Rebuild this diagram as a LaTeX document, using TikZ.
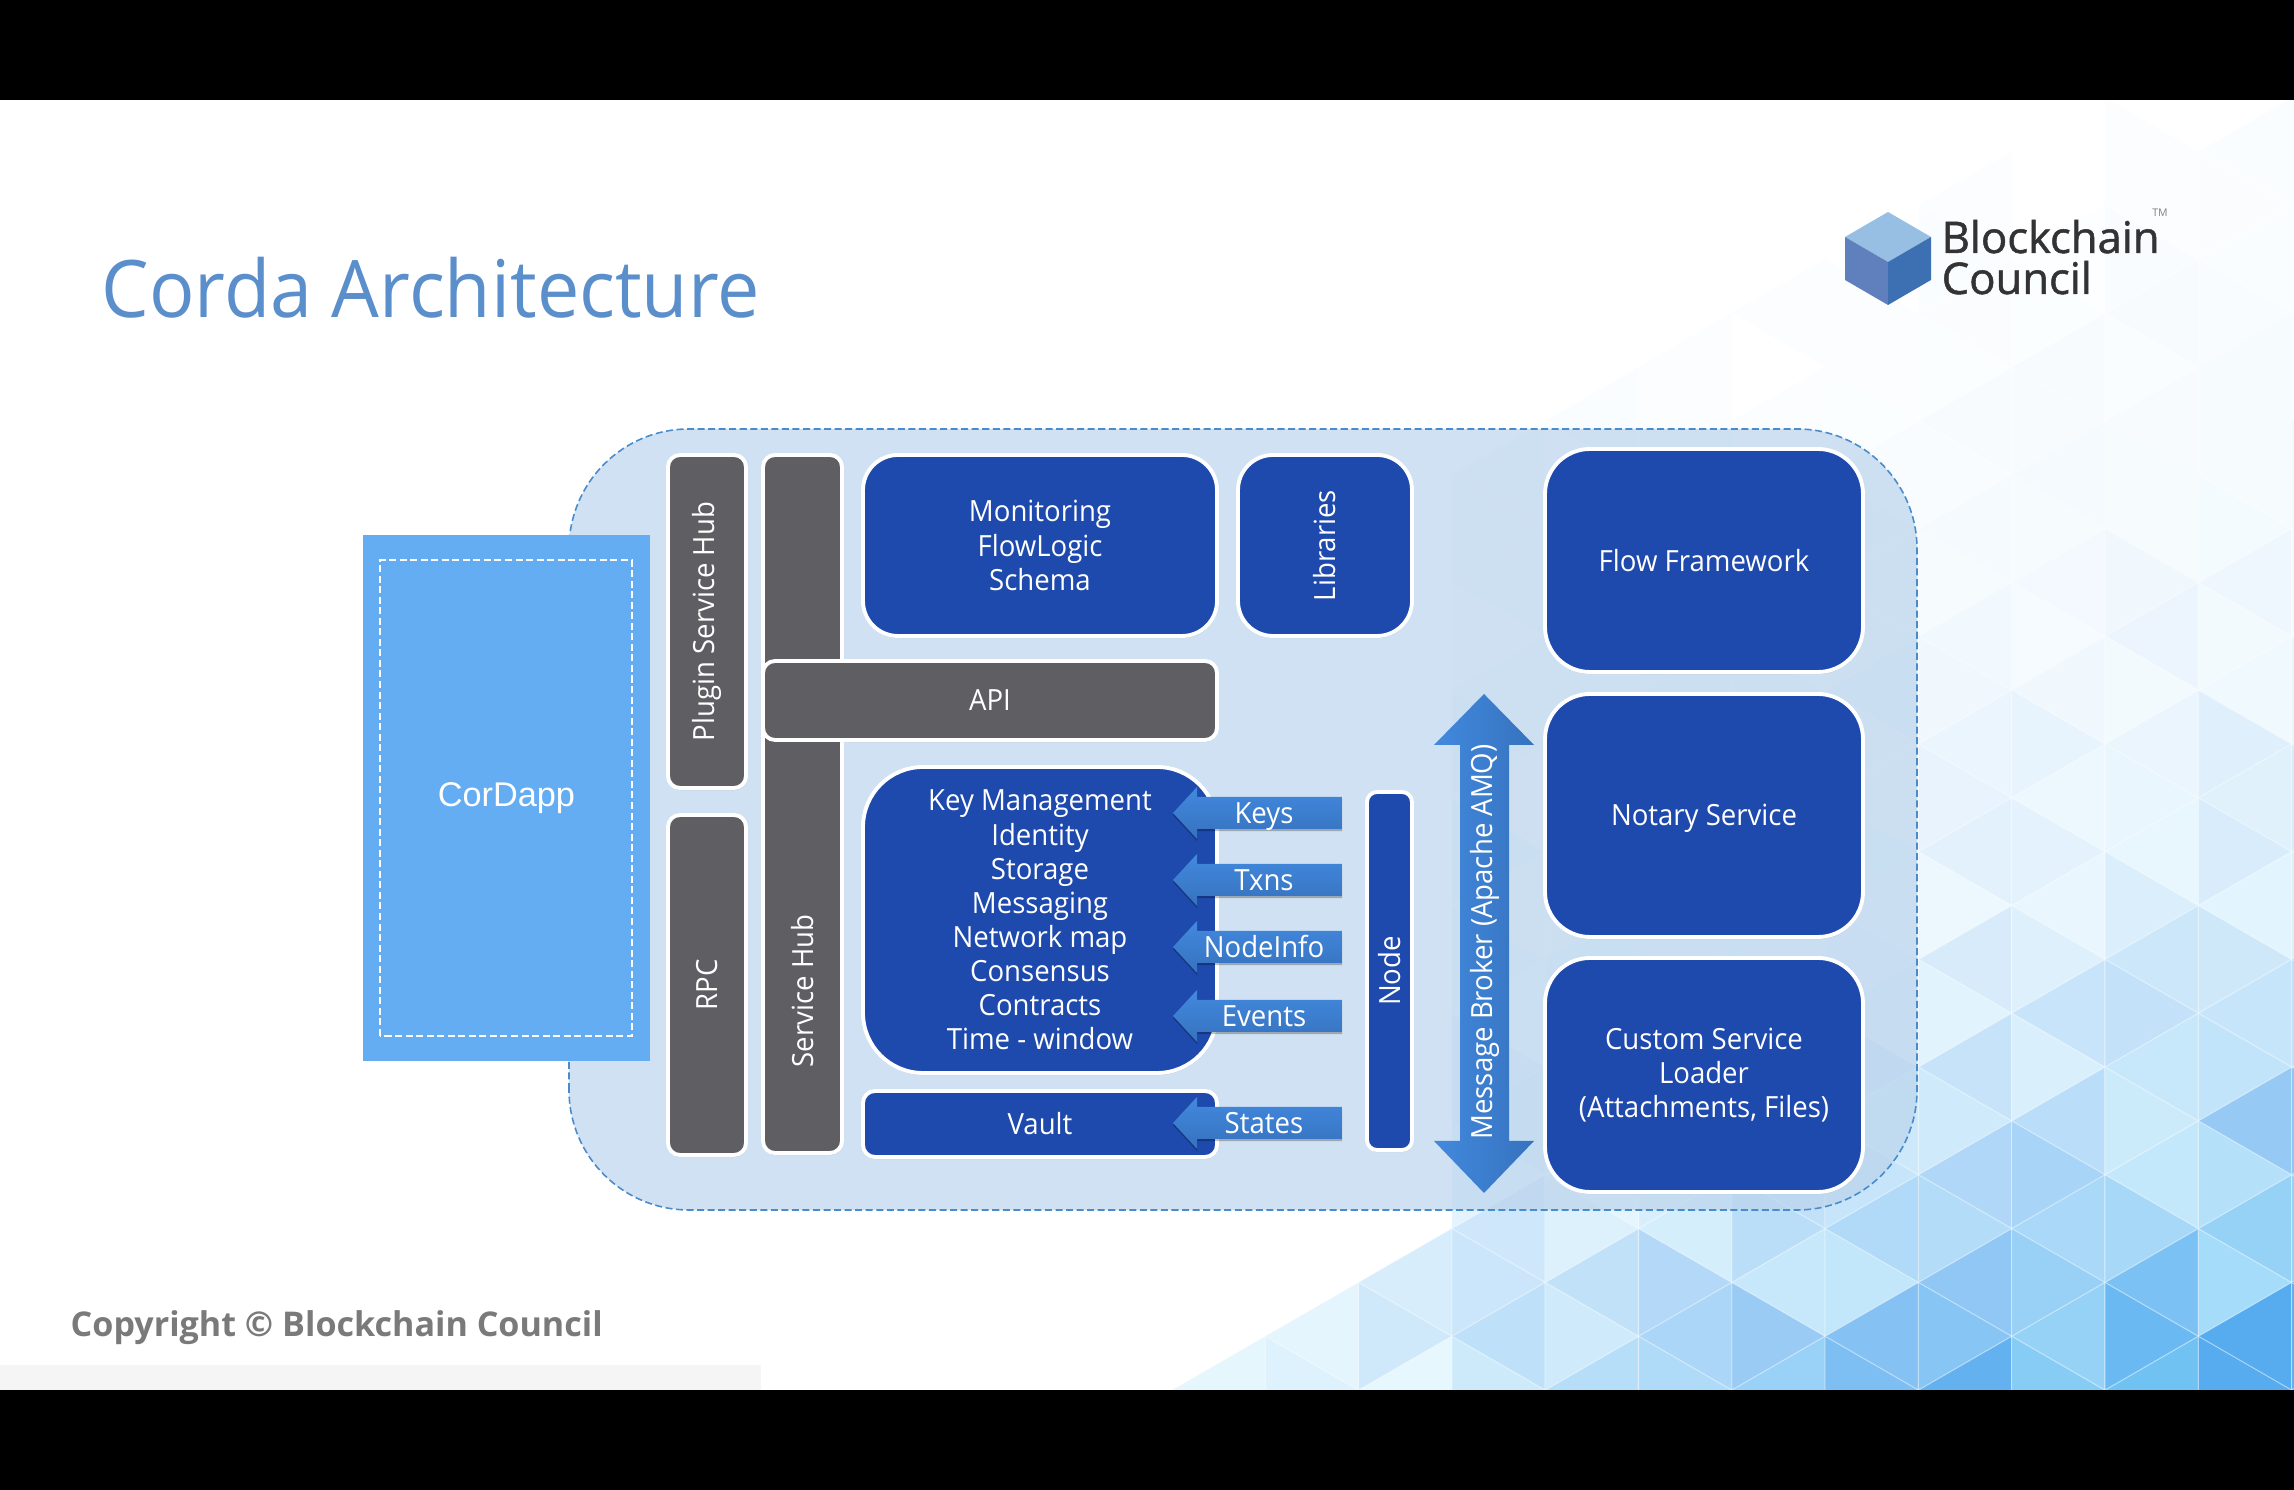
\documentclass[tikz,border=0pt]{standalone}
\usepackage{fontspec}
\setmainfont{Open Sans}
\newfontfamily\arialfont{Liberation Sans}
\newfontfamily\boxfont[FakeStretch=0.945]{Open Sans}
\newfontfamily\heavyfont[FakeBold=1.2]{Open Sans}
\usetikzlibrary{positioning}
\usetikzlibrary{shadows}
\definecolor{corblue}{HTML}{1E49AD}
\definecolor{corgrey}{HTML}{5F5E62}
\definecolor{panelblue}{HTML}{BBD4EC}
\definecolor{paneledge}{HTML}{4A8BCB}
\definecolor{dappblue}{HTML}{64ADF2}
\definecolor{bgblue}{HTML}{55A8EE}
\definecolor{bgcyan}{HTML}{66C4F4}
\definecolor{titleblue}{HTML}{5B8FCB}
\definecolor{arrowlight}{HTML}{4289DE}
\definecolor{arrowdark}{HTML}{3672BE}
\definecolor{cubetop}{HTML}{97BFE3}
\definecolor{cubeleft}{HTML}{5F80BC}
\definecolor{cuberight}{HTML}{3D6FB3}
\tikzset{
  blockbox/.style={draw=white,line width=1.1pt,text=white,align=center,inner sep=0pt,
    font=\boxfont\fontsize{8.3}{9.7}\selectfont,
    drop shadow={shadow xshift=0.2pt,shadow yshift=-0.6pt,opacity=0.3}},
  bluebox/.style={blockbox,fill=corblue,rounded corners=0.35cm},
  greybox/.style={blockbox,fill=corgrey,rounded corners=0.12cm},
  smalltag/.style={text=white,font=\boxfont\fontsize{8.3}{9.7}\selectfont,inner sep=0pt},
}
\begin{document}
\begin{tikzpicture}
\useasboundingbox (0,0) rectangle (22.94,14.90);
% background triangles
\foreach \k in {0,...,12}{
  \foreach \j in {-1,...,11}{
    \pgfmathsetmacro{\xa}{11.72+0.933*\k}
    \pgfmathsetmacro{\xb}{\xa+0.933}
    \pgfmathsetmacro{\ya}{1+1.077*\j+0.5385*mod(\k,2)}
    \pgfmathsetmacro{\yb}{\ya+0.5385}
    \pgfmathsetmacro{\yc}{\ya+1.077}
    \pgfmathsetmacro{\yd}{\ya+1.6155}
    \pgfmathsetmacro{\vara}{0.75+mod(7*\k*\k+13*\j+5*\k*\j,11)/20}
    \pgfmathsetmacro{\varb}{0.75+mod(3*\k*\k+17*\j+2*\k*\j+4,11)/20}
    \pgfmathsetmacro{\opa}{min(1,\vara*exp((\xa+0.31-22.5)/7+(1.4-\yb)/3.2))}
    \pgfmathsetmacro{\opb}{min(1,\varb*exp((\xa+0.62-22.5)/7+(1.4-\yc)/3.2))}
    \pgfmathsetmacro{\mixa}{int(200*(\vara-0.75))}
    \pgfmathsetmacro{\mixb}{int(200*(\varb-0.75))}
    \pgfmathparse{((\yb<1+0.577*(\xa+0.31-11.72))||(\xa>14.5))&&(\opa>0.02)?1:0}
    \ifnum\pgfmathresult>0
      \fill[bgblue!\mixa!bgcyan,fill opacity=\opa] (\xa,\ya) -- (\xa,\yc) -- (\xb,\yb) -- cycle;
      \draw[white,opacity=0.35,line width=0.3pt] (\xa,\ya) -- (\xa,\yc) -- (\xb,\yb) -- cycle;
    \fi
    \pgfmathparse{((\yc<1+0.577*(\xa+0.62-11.72))||(\xa>14.5))&&(\opb>0.02)?1:0}
    \ifnum\pgfmathresult>0
      \fill[bgblue!\mixb!bgcyan,fill opacity=\opb] (\xb,\yb) -- (\xb,\yd) -- (\xa,\yc) -- cycle;
      \draw[white,opacity=0.35,line width=0.3pt] (\xb,\yb) -- (\xb,\yd) -- (\xa,\yc) -- cycle;
    \fi
  }
}
% black bars and strip
\fill[black] (0,13.90) rectangle (22.94,14.90);
\fill[black] (0,0) rectangle (22.94,1.00);
\fill[black!4] (0,1.00) rectangle (7.61,1.25);

\node[anchor=base west,inner sep=0pt,text=titleblue,font=\fontsize{22.6}{27}\selectfont\addfontfeature{FakeStretch=0.95}] (title) at (1.01,11.72) {Corda Architecture};
\node[anchor=base west,inner sep=0pt,text=black!52,font=\bfseries\fontsize{9.7}{12}\selectfont] (copyright) at (0.70,1.53) {Copyright © Blockchain Council};

% logo
\fill[cubetop] (18.88,12.78) -- (19.31,12.53) -- (18.88,12.28) -- (18.45,12.53) -- cycle;
\fill[cubeleft] (18.45,12.53) -- (18.88,12.28) -- (18.88,11.85) -- (18.45,12.10) -- cycle;
\fill[cuberight] (18.88,12.28) -- (19.31,12.53) -- (19.31,12.10) -- (18.88,11.85) -- cycle;
\node[anchor=base west,inner sep=0pt,text=black!80,font=\heavyfont\fontsize{12.4}{14}\selectfont] (logoa) at (19.41,12.37) {Blockchain};
\node[anchor=base west,inner sep=0pt,text=black!80,font=\heavyfont\fontsize{12.4}{14}\selectfont] (logob) at (19.41,11.96) {Council};
\node[inner sep=0pt,text=black!50,font=\fontsize{3}{3}\selectfont] (logotm) at (21.60,12.77) {TM};

% panel
\draw[fill=panelblue,fill opacity=0.7,draw=paneledge,dash pattern=on 2pt off 1pt,line width=0.45pt,rounded corners=1.2cm] (5.69,2.80) rectangle (19.17,10.61);

% cordapp
\node[fill=dappblue,minimum width=2.87cm,minimum height=5.26cm,inner sep=0pt,text=white,font=\arialfont\fontsize{9.75}{12}\selectfont] (cordapp) at (5.065,6.92) {CorDapp};
\draw[white,dash pattern=on 2pt off 1pt,line width=0.35pt] (3.80,4.54) rectangle (6.32,9.30);

% grey bars
\node[greybox,minimum width=0.78cm,minimum height=3.33cm] (pluginhub) at (7.07,8.685) {\rotatebox{90}{Plugin Service Hub}};
\node[greybox,minimum width=0.78cm,minimum height=3.40cm] (rpc) at (7.07,5.05) {\rotatebox{90}{RPC}};
\node[greybox,minimum width=0.79cm,minimum height=6.98cm] (servicehub) at (8.025,6.86) {};
\node[smalltag] (servicelabel) at (8.025,4.99) {\rotatebox{90}{Service Hub}};
\node[greybox,minimum width=4.54cm,minimum height=0.79cm] (api) at (9.90,7.895) {API};

% blue boxes
\node[bluebox,minimum width=3.54cm,minimum height=1.81cm] (monitoring) at (10.40,9.445) {Monitoring\\FlowLogic\\Schema};
\node[bluebox,minimum width=1.74cm,minimum height=1.81cm] (libraries) at (13.25,9.445) {\rotatebox{90}{Libraries}};
\node[bluebox,rounded corners=0.6cm,minimum width=3.54cm,minimum height=3.06cm] (keymgmt) at (10.40,5.70) {Key Management\\Identity\\Storage\\Messaging\\Network map\\Consensus\\Contracts\\Time - window};
\node[bluebox,rounded corners=0.12cm,minimum width=3.54cm,minimum height=0.66cm] (vault) at (10.40,3.66) {Vault};
\node[bluebox,rounded corners=0.1cm,minimum width=0.45cm,minimum height=3.58cm] (nodebar) at (13.895,5.19) {\rotatebox{90}{Node}};
\node[bluebox,rounded corners=0.45cm,minimum width=3.18cm,minimum height=2.23cm] (flow) at (17.04,9.295) {Flow Framework};
\node[bluebox,rounded corners=0.45cm,minimum width=3.18cm,minimum height=2.43cm] (notary) at (17.04,6.745) {};
\node[smalltag] (notarylabel) at (17.04,6.72) {Notary Service};
\node[bluebox,rounded corners=0.45cm,minimum width=3.18cm,minimum height=2.34cm] (custom) at (17.04,4.15) {Custom Service\\Loader\\(Attachments, Files)};

% small arrows
\foreach \ymid/\tagname/\taglabel in {6.77/keys/Keys,6.10/txns/Txns,5.43/nodeinfo/NodeInfo,4.74/events/Events,3.67/states/States}{
  \pgfmathsetmacro{\yup}{\ymid+0.16}
  \pgfmathsetmacro{\ydn}{\ymid-0.16}
  \pgfmathsetmacro{\yhu}{\ymid+0.26}
  \pgfmathsetmacro{\yhd}{\ymid-0.26}
  \fill[black,opacity=0.25,yshift=-0.6pt] (11.73,\ymid) -- (11.97,\yhu) -- (11.97,\yup) -- (13.42,\yup) -- (13.42,\ydn) -- (11.97,\ydn) -- (11.97,\yhd) -- cycle;
  \shade[top color=arrowlight,bottom color=arrowdark] (11.73,\ymid) -- (11.97,\yhu) -- (11.97,\yup) -- (13.42,\yup) -- (13.42,\ydn) -- (11.97,\ydn) -- (11.97,\yhd) -- cycle;
  \node[smalltag,text height=6pt,text depth=0pt] (\tagname) at (12.64,\ymid) {\taglabel};
}

% message broker arrow
\shade[left color=arrowlight,right color=arrowdark] (14.84,7.96) -- (15.34,7.45) -- (15.09,7.45) -- (15.09,3.49) -- (15.34,3.49) -- (14.84,2.97) -- (14.34,3.49) -- (14.60,3.49) -- (14.60,7.45) -- (14.34,7.45) -- cycle;
\node[smalltag] (broker) at (14.85,5.48) {\rotatebox{90}{Message Broker (Apache AMQ)}};
\end{tikzpicture}
\end{document}
